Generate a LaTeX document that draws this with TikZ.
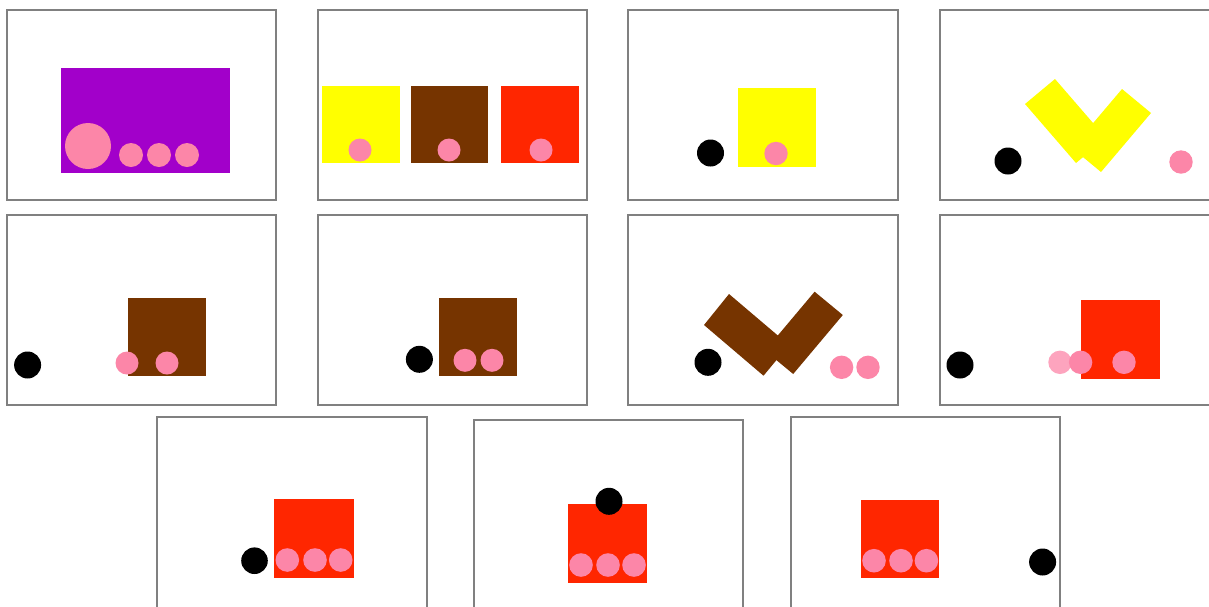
\documentclass[tikz,border=0pt]{standalone}
\usepackage{tikz}
\usepackage{xcolor}

\definecolor{violetblock}{RGB}{162,0,202}
\definecolor{yellowblock}{RGB}{255,255,0}
\definecolor{brownblock}{RGB}{118,52,0}
\definecolor{redblock}{RGB}{255,38,0}
\definecolor{beadpink}{RGB}{252,134,168}

\tikzset{
    panel/.style={draw=gray, line width=1.1pt, fill=white},
    bead/.style={fill=beadpink},
    ghostbead/.style={fill=beadpink!75},
    marble/.style={fill=black}
}

\begin{document}
\begin{tikzpicture}[x=1pt, y=-1pt]
    \useasboundingbox (0,0) rectangle (1209,606);
    \clip (0,0) rectangle (1209,606);

    % frames
    \foreach \xa/\ya/\xb/\yb in {7/10/276/200, 318/10/587/200, 628/10/898/200, 940/10/1212/200,
        7/215/276/405, 318/215/587/405, 628/215/898/405, 940/215/1212/405,
        157/417/427/612, 474/420/743/612, 791/417/1060/612}
        \draw[panel] (\xa,\ya) rectangle (\xb,\yb);

    % panel 1
    \fill[violetblock] (61,68) rectangle (230,173);
    \fill[bead] (88,146) circle (23pt);
    \foreach \x in {131,159,187}
        \fill[bead] (\x,155) circle (12pt);

    % panel 2
    \fill[yellowblock] (322,86) rectangle (400,163);
    \fill[brownblock] (411,86) rectangle (488,163);
    \fill[redblock] (501,86) rectangle (579,163);
    \foreach \x in {360,449,541}
        \fill[bead] (\x,150) circle (11.5pt);

    % panel 3
    \fill[yellowblock] (738,88) rectangle (816,167);
    \fill[marble] (710.5,153) circle (13.5pt);
    \fill[bead] (776,153.5) circle (11.7pt);

    % panel 4
    \fill[yellowblock] (1025,104) -- (1055,79) -- (1106,138) -- (1076,163) -- cycle;
    \fill[yellowblock] (1122,89) -- (1151,113) -- (1101,172) -- (1072,148) -- cycle;
    \fill[marble] (1008,161) circle (13.5pt);
    \fill[bead] (1181,162) circle (11.7pt);

    % panel 5
    \fill[brownblock] (128,298) rectangle (206,376);
    \fill[marble] (27.6,365) circle (13.5pt);
    \foreach \x in {127,167}
        \fill[bead] (\x,363) circle (11.5pt);

    % panel 6
    \fill[brownblock] (439,298) rectangle (517,376);
    \fill[marble] (419.4,359.3) circle (13.5pt);
    \foreach \x in {465,492}
        \fill[bead] (\x,360.3) circle (11.5pt);

    % panel 7
    \fill[brownblock] (704,325) -- (729,294) -- (789,345) -- (763.5,375.7) -- cycle;
    \fill[brownblock] (814.6,291.7) -- (842.8,315) -- (793.2,374) -- (765,350.7) -- cycle;
    \fill[marble] (708,362.3) circle (13.5pt);
    \foreach \x in {841.6,868}
        \fill[bead] (\x,367.3) circle (11.7pt);

    % panel 8
    \fill[redblock] (1081,300) rectangle (1160,379);
    \fill[marble] (960,365) circle (13.5pt);
    \fill[ghostbead] (1060,362.3) circle (11.7pt);
    \foreach \x in {1080.6,1124}
        \fill[bead] (\x,362.3) circle (11.7pt);

    % panel 9
    \fill[redblock] (274.4,498.7) rectangle (353.6,578);
    \fill[marble] (254.5,560.7) circle (13.3pt);
    \foreach \x in {287.3,315,340.7}
        \fill[bead] (\x,560) circle (11.8pt);

    % panel 10
    \fill[redblock] (568,504) rectangle (647,583);
    \foreach \x in {581,608,634}
        \fill[bead] (\x,565) circle (11.8pt);
    \fill[marble] (609,501.3) circle (13.5pt);

    % panel 11
    \fill[redblock] (861,500) rectangle (939,578);
    \foreach \x in {874,901,926.4}
        \fill[bead] (\x,560.7) circle (11.8pt);
    \fill[marble] (1042.6,562) circle (13.5pt);
\end{tikzpicture}
\end{document}
